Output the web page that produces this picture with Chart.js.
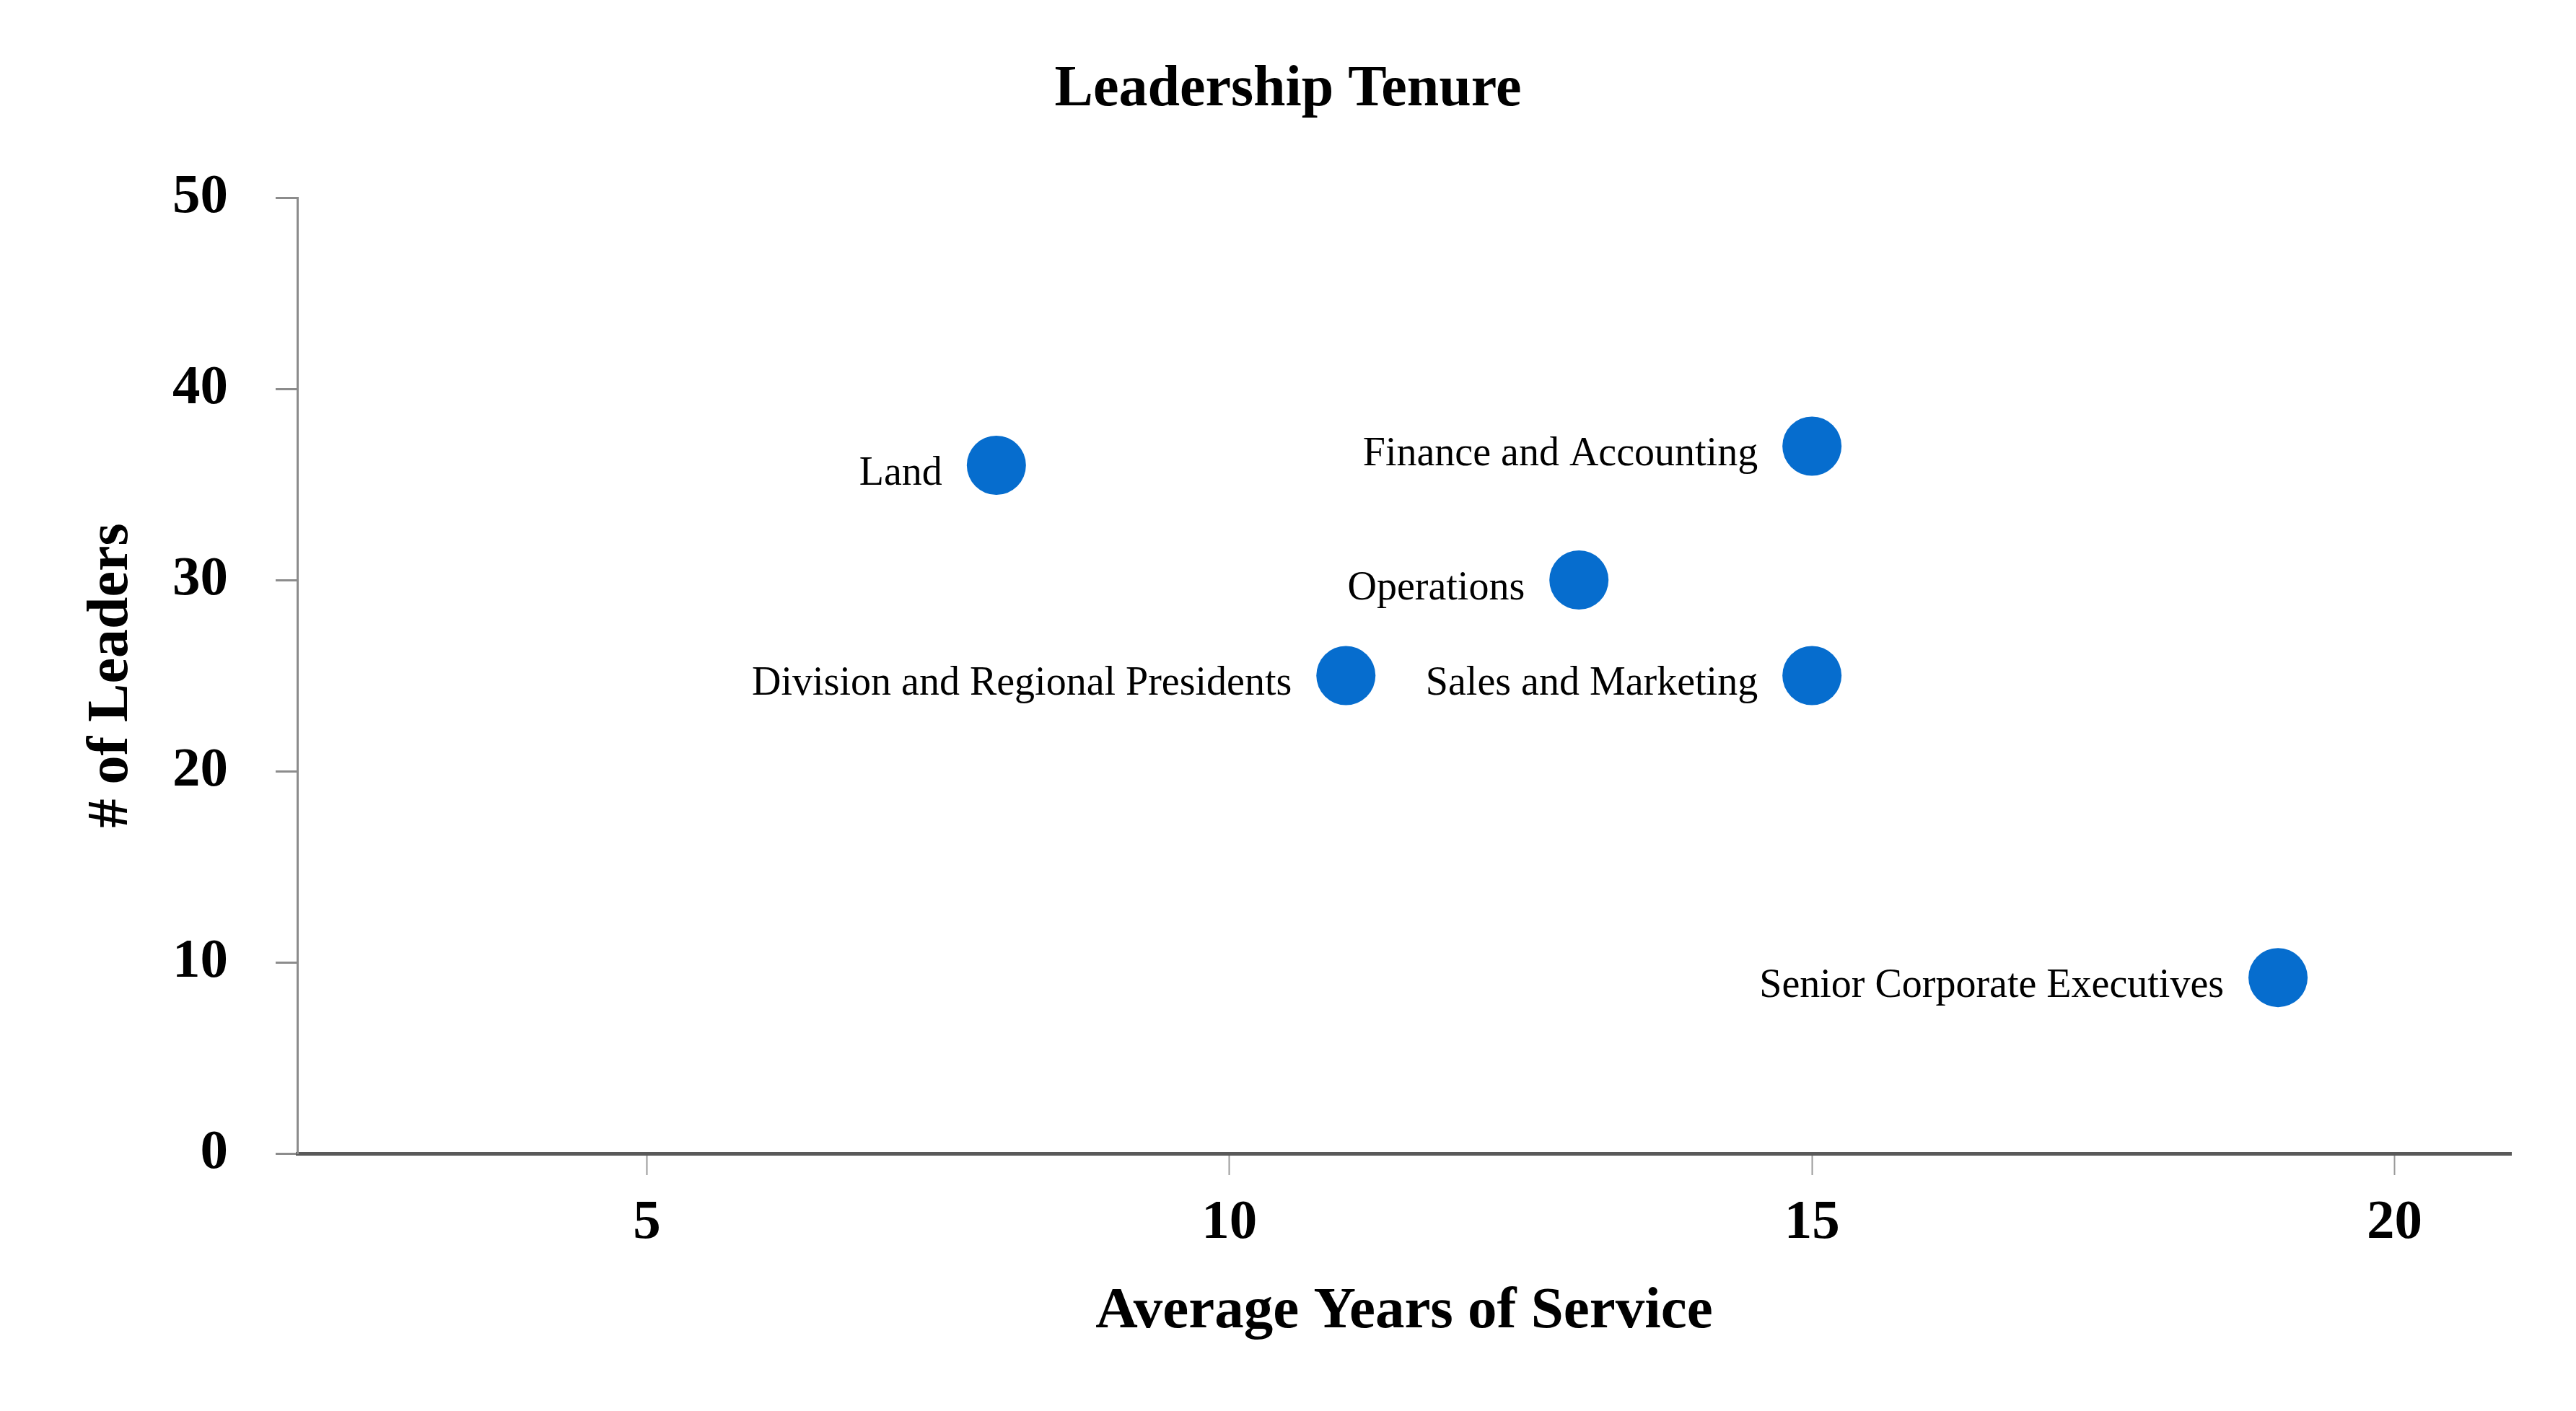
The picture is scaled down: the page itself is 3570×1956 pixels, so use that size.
<!DOCTYPE html>
<html>
<head>
<meta charset="utf-8">
<script src="https://cdn.jsdelivr.net/npm/chart.js@4"></script>
<style>
  html, body { margin: 0; padding: 0; background: #fff; }
  canvas { display: block; }
</style>
</head>
<body>
<canvas id="tenureChart" width="3570" height="1956"></canvas>
<script>
const groups = [
	"Land",
	"Finance and Accounting",
	"Operations",
	"Division and Regional Presidents",
	"Sales and Marketing",
	"Senior Corporate Executives",
];
const avgYears = [8, 15, 13, 11, 15, 19];
const leaderCounts = [36, 37, 30, 25, 25, 9.2];
const xTickValues = [5, 10, 15, 20];

const dotColor = "#066DCE";
const serif = "'Liberation Serif', 'Times New Roman', serif";

const tickFont = { family: serif, size: 77, weight: "bold" };
const titleFont = { family: serif, size: 80, weight: "bold" };

// names drawn to the left of each dot
const pointLabels = {
	id: "pointLabels",
	afterDatasetsDraw(chart) {
		const { ctx } = chart;
		const meta = chart.getDatasetMeta(0);
		ctx.save();
		ctx.font = "56px " + serif;
		ctx.fillStyle = "#000";
		ctx.textAlign = "right";
		ctx.textBaseline = "middle";
		meta.data.forEach((pt, i) => {
			ctx.fillText(groups[i], pt.x - 75, pt.y + 12);
		});
		ctx.restore();
	},
};

new Chart(document.getElementById("tenureChart"), {
	type: "scatter",
	data: {
		datasets: [
			{
				label: "Leaders",
				data: avgYears.map((x, i) => ({ x, y: leaderCounts[i] })),
				backgroundColor: dotColor,
				borderWidth: 0,
				pointRadius: 41,
				pointHoverRadius: 41,
			},
		],
	},
	options: {
		responsive: false,
		devicePixelRatio: 1,
		animation: false,
		layout: { padding: 0 },
		plugins: {
			legend: { display: false },
			tooltip: { enabled: false },
			title: {
				display: true,
				text: "Leadership Tenure",
				color: "#000",
				font: titleFont,
				padding: { top: 77, bottom: 101 },
			},
		},
		scales: {
			x: {
				type: "linear",
				min: 2,
				max: 21,
				afterBuildTicks: (scale) => {
					scale.ticks = xTickValues.map((v) => ({ value: v }));
				},
				afterFit: (scale) => {
					scale.height = 357;
				},
				border: { display: true, color: "#595959", width: 5 },
				grid: {
					drawOnChartArea: false,
					drawTicks: true,
					tickLength: 30,
					tickColor: "#9a9a9a",
					tickWidth: 2,
				},
				ticks: { color: "#000", font: tickFont, padding: 21 },
				title: {
					display: true,
					text: "Average Years of Service",
					color: "#000",
					font: { family: serif, size: 81, weight: "bold" },
					padding: { top: 0, bottom: 88 },
				},
			},
			y: {
				min: 0,
				max: 50,
				afterFit: (scale) => {
					scale.width = 412;
				},
				border: { display: true, color: "#8c8c8c", width: 3 },
				grid: {
					drawOnChartArea: false,
					drawTicks: true,
					tickLength: 30,
					tickColor: "#8c8c8c",
					tickWidth: 3,
				},
				ticks: { stepSize: 10, color: "#000", font: tickFont, padding: 66 },
				title: {
					display: true,
					text: "# of Leaders",
					color: "#000",
					font: titleFont,
					padding: { top: 107, bottom: 0 },
				},
			},
			// empty right-hand box, keeps the plot clear of the right edge
			// while the title stays centred on the whole canvas
			spacer: {
				type: "linear",
				position: "right",
				display: true,
				afterFit: (scale) => {
					scale.width = 90;
				},
				border: { display: false },
				grid: { display: false },
				ticks: { display: false },
			},
		},
	},
	plugins: [pointLabels],
});
</script>
</body>
</html>
